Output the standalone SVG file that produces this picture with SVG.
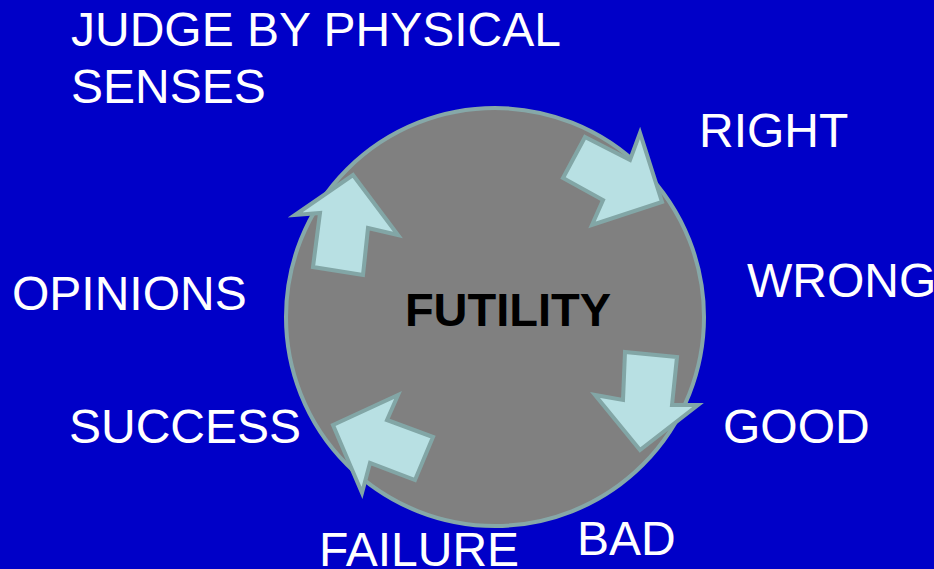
<svg xmlns="http://www.w3.org/2000/svg" width="934" height="569" viewBox="0 0 934 569">
<style>
.lbl{font-family:"Liberation Sans",Arial,sans-serif;font-size:48px;fill:#ffffff}
.arw{fill:#b8e0e3;stroke:#82a6a6;stroke-width:4;stroke-linejoin:miter}
</style>
<rect width="934" height="569" fill="#0000c8"/>
<g id="futility">
<circle cx="495" cy="317" r="209" fill="#808080" stroke="#86a8a8" stroke-width="4"/>
<text x="508" y="326" text-anchor="middle" font-family="Liberation Sans,Arial,sans-serif" font-weight="bold" font-size="47" fill="#000000">FUTILITY</text>
</g>
<g id="connectors">
<polygon class="arw" points="585,137 630,160 640,133 662,202 592,225 603,200 563,178"/>
<polygon class="arw" points="625,352 677,357 672,405 698,405 640,450 595,395 623,400"/>
<polygon class="arw" points="333,425 398,395 387,420 433,437 415,480 370,463 362,493"/>
<polygon class="arw" points="353,175 398,235 368,228 363,275 313,267 320,213 295,215"/>
</g>
<g id="judge"><text class="lbl" x="71" y="46">JUDGE BY PHYSICAL</text><text class="lbl" x="71" y="103">SENSES</text></g>
<g id="right"><text class="lbl" x="699" y="147">RIGHT</text></g>
<g id="wrong"><text class="lbl" x="747" y="297">WRONG</text></g>
<g id="good"><text class="lbl" x="723" y="443">GOOD</text></g>
<g id="bad"><text class="lbl" x="577" y="555">BAD</text></g>
<g id="failure"><text class="lbl" x="319" y="566">FAILURE</text></g>
<g id="success"><text class="lbl" x="69" y="443">SUCCESS</text></g>
<g id="opinions"><text class="lbl" x="12" y="310">OPINIONS</text></g>
</svg>
